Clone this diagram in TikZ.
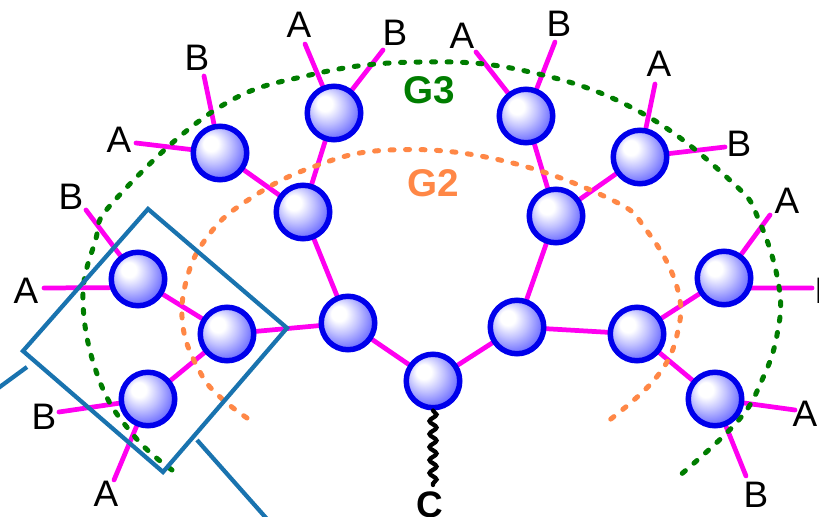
\documentclass[tikz,border=0pt]{standalone}
\usepackage{fontspec}
\setmainfont{Liberation Sans}
\usetikzlibrary{backgrounds,decorations.pathmorphing}
\pgfdeclareradialshading{sphereshade}{\pgfpoint{-10bp}{10bp}}{%
  color(0bp)=(white); color(7bp)=(white); color(17bp)=(blue!25!white); color(29bp)=(blue!58!white); color(37bp)=(blue!88!white); color(50bp)=(blue)}
\begin{document}
\begin{tikzpicture}[x=0.02cm, y=-0.02cm, font=\fontsize{21}{21}\selectfont,
	ball/.style={circle, draw=ballblue, line width=0.11cm, minimum size=1.07cm, inner sep=0pt, shading=sphereshade},
	arm/.style={draw=armpink, line width=0.095cm, line cap=round},
	gendot/.style={line width=0.1cm, line cap=round, dash pattern=on 0.08cm off 0.23cm},
	boxline/.style={draw=boxblue, line width=0.085cm},
	tag/.style={inner sep=0pt}]
	\definecolor{ballblue}{RGB}{0, 0, 235}
	\definecolor{armpink}{RGB}{255, 0, 240}
	\definecolor{boxblue}{RGB}{25, 115, 175}
	\definecolor{gthree}{RGB}{0, 125, 0}
	\definecolor{gtwo}{RGB}{255, 135, 70}
	\useasboundingbox (0,0) rectangle (819,517);
	
	% 球
	\node[ball] (core) at (433,381) {};
	\node[ball] (l1) at (348,323) {};
	\node[ball] (l2) at (303,212) {};
	\node[ball] (l3) at (334,113) {};
	\node[ball] (l4) at (220,153) {};
	\node[ball] (p) at (227,334) {};
	\node[ball] (q) at (138,279) {};
	\node[ball] (s) at (148,399) {};
	\node[ball] (r1) at (517,327) {};
	\node[ball] (r2) at (556,216) {};
	\node[ball] (r3) at (526,116) {};
	\node[ball] (r4) at (640,157) {};
	\node[ball] (r5) at (637,334) {};
	\node[ball] (r6) at (724,278) {};
	\node[ball] (r7) at (715,399) {};
	
	% 末端标签
	\foreach \name/\tx/\ty/\txt in {al3/299/25/A, bl3/395/33/B, bl4/197/58/B, al4/119/140/A,
		bq/71/197/B, aq/26/291/A, bs/44/417/B, as/106/494/A,
		ar3/462/36/A, br3/559/24/B, ar4/659/64/A, br4/739/144/B,
		ar6/787/201/A, br6/827/291/B, ar7/805/414/A, br7/756/495/B}
		\node[tag] (\name) at (\tx,\ty) {\txt};
	\node[tag, font=\fontsize{21}{21}\selectfont\bfseries] (ctag) at (430,505) {C};
	\node[tag, text=gthree, font=\fontsize{22}{22}\selectfont\bfseries] (g3) at (429,90) {G3};
	\node[tag, text=gtwo, font=\fontsize{22}{22}\selectfont\bfseries] (g2) at (433,183) {G2};
	
	% 自由端
	\coordinate (el3a) at (305,44);
	\coordinate (el3b) at (383,50);
	\coordinate (el4b) at (204,76);
	\coordinate (el4a) at (136,143);
	\coordinate (eqb) at (86,210);
	\coordinate (eqa) at (44,288);
	\coordinate (esb) at (59,412);
	\coordinate (esa) at (114,480);
	\coordinate (er3a) at (476,52);
	\coordinate (er3b) at (555,42);
	\coordinate (er4a) at (655,84);
	\coordinate (er4b) at (725,147);
	\coordinate (er6a) at (770,215);
	\coordinate (er6b) at (812,288);
	\coordinate (er7a) at (795,410);
	\coordinate (er7b) at (746,476);
	\coordinate (ecore) at (433,485);
	
	\begin{pgfonlayer}{background}
		% 连线
		\foreach \a/\b in {core/l1, l1/l2, l2/l3, l2/l4, l1/p, p/q, p/s, core/r1, r1/r2, r2/r3, r2/r4, r1/r5, r5/r6, r5/r7,
			l3/el3a, l3/el3b, l4/el4a, l4/el4b, q/eqb, s/esb, s/esa, r3/er3a, r3/er3b, r4/er4a, r4/er4b, r6/er6a, r7/er7a, r7/er7b}
			\draw[arm] (\a) -- (\b);
		\draw[arm] (q.197) -- (eqa);
		\draw[arm] (r6.-20) -- (er6b);
		
		% G3, G2
		\draw[gendot, gthree] plot[smooth, tension=0.7] coordinates {(172,470) (135,437) (100,382) (83,303) (95,242) (115,200) (215,110) (310,75) (420,62) (530,72) (640,112) (733,183) (760,223) (779,287) (777,335) (762,380) (737,422) (678,477)};
		\draw[gendot, gtwo] plot[smooth, tension=0.7] coordinates {(247,418) (220,397) (200,372) (183,327) (187,278) (208,236) (245,202) (310,168) (390,150) (500,160) (610,199) (647,231) (677,287) (677,335) (655,379) (607,422)};
	\end{pgfonlayer}
	
	% 波浪线
	\draw[line width=0.085cm, line cap=round, decorate, decoration={snake, segment length=0.26cm, amplitude=0.07cm}] (core) -- (ecore);
	
	% 方框
	\coordinate (bx1) at (148,209);
	\coordinate (bx2) at (287,328);
	\coordinate (bx3) at (163,472);
	\coordinate (bx4) at (23,351);
	\coordinate (tl1) at (27,367);
	\coordinate (tl2) at (-3,389);
	\coordinate (tr1) at (197,440);
	\coordinate (tr2) at (267,519);
	\draw[boxline] (bx1) -- (bx2) -- (bx3) -- (bx4) -- cycle;
	\draw[boxline] (tl1) -- (tl2);
	\draw[boxline] (tr1) -- (tr2);
\end{tikzpicture}
\end{document}
